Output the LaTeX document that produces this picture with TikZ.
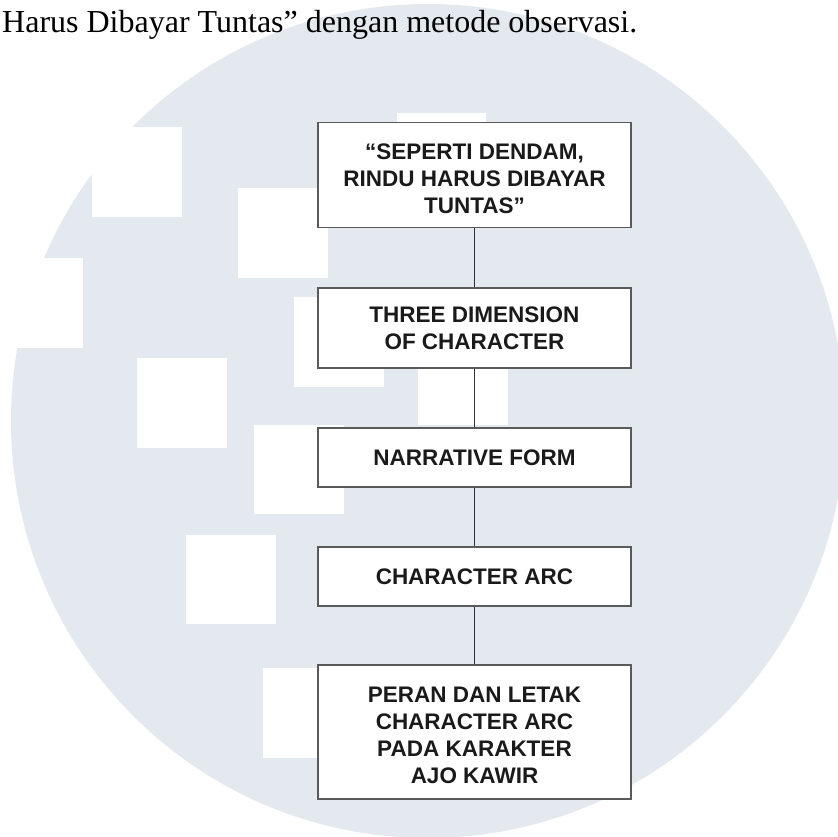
\documentclass[tikz,border=0pt]{standalone}
\usepackage{fontspec}
\setmainfont{Liberation Sans}
\newfontfamily\headserif{Liberation Serif}
\definecolor{wmfill}{HTML}{E4E9EF}
\definecolor{boxline}{HTML}{5A5A5A}
\definecolor{txtcol}{HTML}{1A1A1A}
\tikzset{
  wmsq/.style={fill=white, draw=none},
  flowbox/.style={draw=boxline, line width=1.4pt, fill=white, minimum width=313pt,
    inner sep=0pt, align=center, text=txtcol,
    font=\fontsize{22.5}{27}\selectfont\bfseries},
  link/.style={draw=black!80, line width=1.3pt}
}
\begin{document}
\begin{tikzpicture}[x=1pt,y=-1pt]
\useasboundingbox (0,0) rectangle (838,837);
\fill[white] (0,0) rectangle (838,837);
\begin{scope}
\clip (0,0) rectangle (838,837);
\fill[wmfill] (428,421) circle (417);
\fill[wmsq] (92,127) rectangle (182,217);
\fill[wmsq] (238,188) rectangle (328,278);
\fill[wmsq] (-7,258) rectangle (83,348);
\fill[wmsq] (137,358) rectangle (227,448);
\fill[wmsq] (294,297) rectangle (384,387);
\fill[wmsq] (254,425) rectangle (344,514);
\fill[wmsq] (186,535) rectangle (276,624);
\fill[wmsq] (263,668) rectangle (353,758);
\fill[wmsq] (397,113) rectangle (486,203);
\fill[wmsq] (418,335) rectangle (508,425);
\end{scope}

\node[anchor=base west, inner sep=0pt, font=\headserif\fontsize{32}{36}\selectfont] (head) at (2,33)
  {Harus Dibayar Tuntas” dengan metode observasi.};

\node[flowbox, minimum height=105pt] (b1) at (474.5,175)
  {\rule{0pt}{23pt}“SEPERTI DENDAM,\\RINDU HARUS DIBAYAR\\TUNTAS”};
\node[flowbox, minimum height=80pt] (b2) at (474.5,328)
  {THREE DIMENSION\\OF CHARACTER};
\node[flowbox, minimum height=59pt] (b3) at (474.5,457.5)
  {NARRATIVE FORM};
\node[flowbox, minimum height=59pt] (b4) at (474.5,576.5)
  {CHARACTER ARC};
\node[flowbox, minimum height=134pt] (b5) at (474.5,732)
  {\rule{0pt}{23pt}PERAN DAN LETAK\\CHARACTER ARC\\PADA KARAKTER\\AJO KAWIR};

\draw[link] (b1.south) -- (b2.north);
\draw[link] (b2.south) -- (b3.north);
\draw[link] (b3.south) -- (b4.north);
\draw[link] (b4.south) -- (b5.north);
\end{tikzpicture}
\end{document}
